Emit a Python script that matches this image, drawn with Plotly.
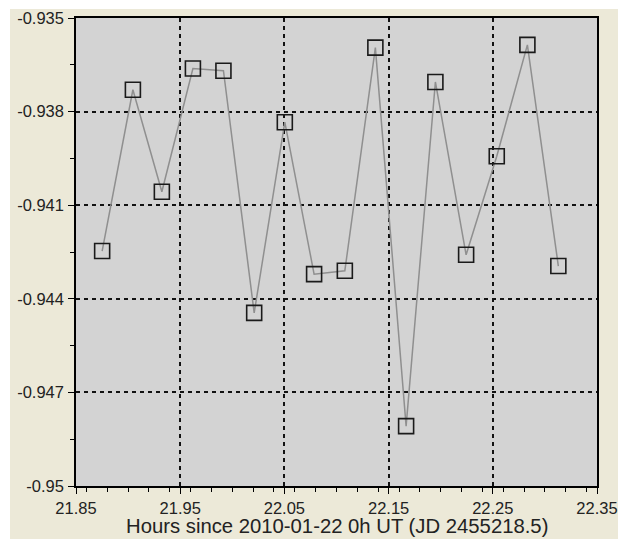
import plotly.graph_objects as go

hours = [21.8751, 21.9046, 21.9324, 21.9622, 21.9915, 22.0210, 22.0504, 22.0785,
         22.1080, 22.1373, 22.1668, 22.1949, 22.2244, 22.2538, 22.2832, 22.3129]
mags = [-0.94247, -0.93730, -0.94057, -0.93662, -0.93669, -0.94445, -0.93834, -0.94321,
        -0.94310, -0.93595, -0.94808, -0.93705, -0.94259, -0.93943, -0.93586, -0.94295]

x_ticks = [21.85, 21.95, 22.05, 22.15, 22.25, 22.35]
x_ticktext = ["21.85", "21.95", "22.05", "22.15", "22.25", "22.35"]
y_ticks = [-0.935, -0.938, -0.941, -0.944, -0.947, -0.95]
y_ticktext = ["-0.935", "-0.938", "-0.941", "-0.944", "-0.947", "-0.95"]
x_title = "Hours since 2010-01-22 0h UT (JD 2455218.5)"

W, H = 618, 539
L, R, T, B = 76, 21, 18, 53
pw, ph = W - L - R, H - T - B

fig = go.Figure()
fig.add_trace(go.Scatter(
    x=hours, y=mags, mode="lines+markers",
    line=dict(color="#8f8f8f", width=1.5),
    marker=dict(symbol="square-open", size=15, color="#1a1a1a", line=dict(width=1.6, color="#1a1a1a")),
    showlegend=False, hoverinfo="x+y",
))

# thin white border on the left and top of the picture
fig.add_shape(type="rect", xref="paper", yref="paper",
              x0=-(L + 5) / pw, x1=(10 - L) / pw,
              y0=-(B + 5) / ph, y1=(ph + T + 5) / ph,
              fillcolor="#ffffff", line=dict(width=0), layer="above")
fig.add_shape(type="rect", xref="paper", yref="paper",
              x0=-(L + 5) / pw, x1=(pw + R + 5) / pw,
              y0=(ph + T - 9) / ph, y1=(ph + T + 5) / ph,
              fillcolor="#ffffff", line=dict(width=0), layer="above")

axis_font = dict(family="Liberation Sans, Arial, sans-serif", size=16.5, color="#222222")

fig.add_annotation(text=x_title, xref="paper", yref="paper", x=0.5, y=-40 / ph,
                   xanchor="center", yanchor="middle", showarrow=False,
                   font=dict(family="Liberation Sans, Arial, sans-serif", size=20.3, color="#222222"))

fig.update_xaxes(
    range=[21.85, 22.35], tickvals=x_ticks, ticktext=x_ticktext,
    showgrid=True, gridcolor="#111111", gridwidth=1.5, griddash="4px,4px",
    showline=True, linecolor="#000000", linewidth=1.5, mirror=True,
    ticks="outside", ticklen=6, tickwidth=1.3, tickcolor="#000000",
    minor=dict(dtick=0.02, ticks="outside", ticklen=4, tickwidth=1.2, tickcolor="#000000", showgrid=False),
    zeroline=False, tickfont=axis_font, automargin=False, ticklabelstandoff=0,
)
fig.update_yaxes(
    range=[-0.95, -0.935], tickvals=y_ticks, ticktext=y_ticktext,
    showgrid=True, gridcolor="#111111", gridwidth=1.5, griddash="4px,4px",
    showline=True, linecolor="#000000", linewidth=1.5, mirror=True,
    ticks="outside", ticklen=6, tickwidth=1.3, tickcolor="#000000",
    minor=dict(dtick=0.0015, tick0=-0.95, ticks="outside", ticklen=4, tickwidth=1.2, tickcolor="#000000", showgrid=False),
    zeroline=False, tickfont=axis_font, automargin=False, ticklabelstandoff=1,
)

fig.update_layout(
    width=W, height=H,
    margin=dict(l=L, r=R, t=T, b=B),
    paper_bgcolor="#ECE9D8", plot_bgcolor="#d3d3d3",
    font=axis_font,
)

fig.write_html("out.html", config={"displayModeBar": False},
               post_script="document.body.style.margin='0';document.body.style.overflow='hidden';")
